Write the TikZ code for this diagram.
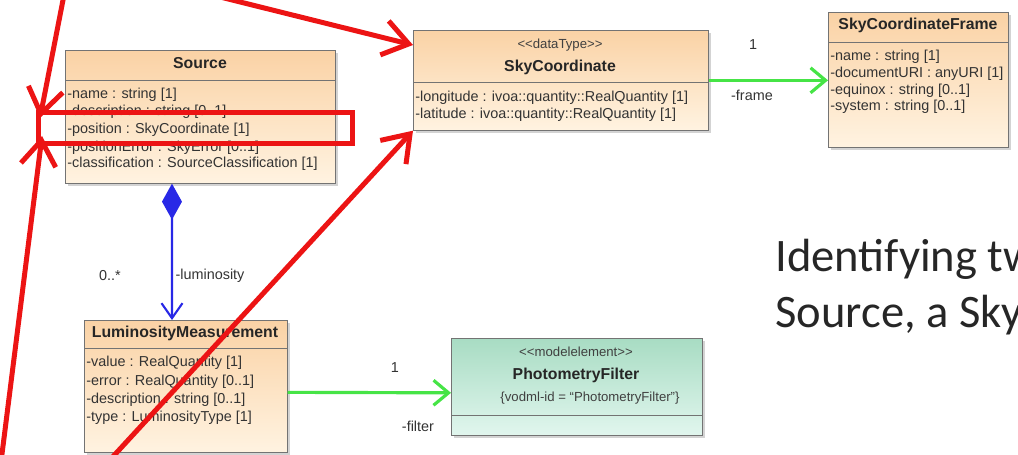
\documentclass[tikz,border=0pt]{standalone}
\usepackage{fontspec}
\setmainfont{Liberation Sans}
\newfontfamily\slidefont{Carlito}
\usetikzlibrary{arrows.meta,shadows}

\definecolor{peachdark}{RGB}{250,210,165}
\definecolor{peachlight}{RGB}{255,243,225}
\definecolor{minttop}{RGB}{168,220,195}
\definecolor{mintbot}{RGB}{225,246,238}
\definecolor{umlgreen}{RGB}{70,228,70}
\definecolor{umlblue}{RGB}{40,40,230}
\definecolor{markred}{RGB}{236,20,20}

\begin{document}
\begin{tikzpicture}[x=0.02cm, y=-0.02cm]
	\tikzstyle{class_box} = [draw=black!55, anchor=north west, inner sep=0, top color=peachdark, bottom color=peachlight, drop shadow={shadow xshift=0.05cm, shadow yshift=-0.05cm, opacity=0.35}]
	\tikzstyle{model_box} = [class_box, top color=minttop, bottom color=mintbot]
	\tikzstyle{class_sep} = [draw=black!55]
	\tikzstyle{class_title} = [inner sep=0, text=black!85, font=\bfseries\fontsize{9}{10}\selectfont]
	\tikzstyle{class_stereo} = [inner sep=0, text=black!75, font=\fontsize{7.5}{9}\selectfont]
	\tikzstyle{class_attr} = [anchor=west, inner sep=0, text=black!80, font=\fontsize{8.2}{9}\selectfont]
	\tikzstyle{conn_label} = [inner sep=0, text=black!80, font=\fontsize{8.2}{9}\selectfont]
	\tikzstyle{assoc_line} = [draw=umlgreen, line width=1.8pt, -{Straight Barb[length=0.3cm, width=0.5cm]}]
	\tikzstyle{comp_line} = [draw=umlblue, line width=1.2pt, {Diamond[length=0.72cm, width=0.4cm]}-{Straight Barb[length=0.3cm, width=0.42cm]}]
	\tikzstyle{mark_arrow} = [draw=markred, line width=0.1cm, line cap=round, line join=round, -{Straight Barb[length=0.5cm, width=0.7cm]}]
	\tikzstyle{mark_box} = [draw=markred, line width=0.1cm]

	\clip (0,0) rectangle (1018,455);

%------------------------------------------------------------
	\node[class_box, minimum width=5.4cm, minimum height=2.66cm] (src) at (65,50) {};
	\draw[class_sep] ([yshift=-0.6cm]src.north west) -- ([yshift=-0.6cm]src.north east);
	\node[class_title] (src_name) at (200,63) {Source};
	\node[class_attr] (src_a1) at (67,95) {-name : string [1]};
	\node[class_attr] (src_a2) at (67,112) {-description : string [0..1]};
	\node[class_attr] (src_a3) at (67,130) {-position : SkyCoordinate [1]};
	\node[class_attr] (src_a4) at (67,148) {-positionError : SkyError [0..1]};
	\node[class_attr] (src_a5) at (67,164) {-classification : SourceClassification [1]};

%------------------------------------------------------------
	\node[class_box, minimum width=5.9cm, minimum height=2.0cm] (sky) at (413,30) {};
	\draw[class_sep] ([yshift=-1.04cm]sky.north west) -- ([yshift=-1.04cm]sky.north east);
	\node[class_stereo] (sky_st) at (560,45) {{<}{<}dataType{>}{>}};
	\node[class_title] (sky_name) at (560,67) {SkyCoordinate};
	\node[class_attr] (sky_a1) at (415,98) {-longitude : ivoa::quantity::RealQuantity [1]};
	\node[class_attr] (sky_a2) at (415,115) {-latitude : ivoa::quantity::RealQuantity [1]};

%------------------------------------------------------------
	\node[class_box, minimum width=3.6cm, minimum height=2.7cm] (frame) at (828,12) {};
	\draw[class_sep] ([yshift=-0.6cm]frame.north west) -- ([yshift=-0.6cm]frame.north east);
	\node[class_title] (frame_name) at (918,25) {SkyCoordinateFrame};
	\node[class_attr] (frame_a1) at (830,57) {-name : string [1]};
	\node[class_attr] (frame_a2) at (830,74) {-documentURI : anyURI [1]};
	\node[class_attr] (frame_a3) at (830,91) {-equinox : string [0..1]};
	\node[class_attr] (frame_a4) at (830,107) {-system : string [0..1]};

%------------------------------------------------------------
	\node[class_box, minimum width=4.06cm, minimum height=2.64cm] (lum) at (84,320) {};
	\draw[class_sep] ([yshift=-0.56cm]lum.north west) -- ([yshift=-0.56cm]lum.north east);
	\node[class_title] (lum_name) at (185,333) {LuminosityMeasurement};
	\node[class_attr] (lum_a1) at (86,363) {-value : RealQuantity [1]};
	\node[class_attr] (lum_a2) at (86,382) {-error : RealQuantity [0..1]};
	\node[class_attr] (lum_a3) at (86,400) {-description : string [0..1]};
	\node[class_attr] (lum_a4) at (86,418) {-type : LuminosityType [1]};

%------------------------------------------------------------
	\node[model_box, minimum width=5.02cm, minimum height=1.94cm] (photo) at (451,338) {};
	\draw[class_sep] ([yshift=-1.54cm]photo.north west) -- ([yshift=-1.54cm]photo.north east);
	\node[class_stereo] (photo_st) at (576,352) {{<}{<}modelelement{>}{>}};
	\node[class_title] (photo_name) at (576,375) {PhotometryFilter};
	\node[class_stereo] (photo_tag) at (590,398) {\{vodml-id = “PhotometryFilter”\}};

%------------------------------------------------------------
	\draw[assoc_line] (sky.east) -- (sky.east -| frame.west);
	\node[conn_label] (frame_mult) at (753,45) {1};
	\node[conn_label] (frame_role) at (752,95) {-frame};

	\draw[comp_line] ([xshift=2.14cm]src.south west) -- ([xshift=1.76cm]lum.north west);
	\node[conn_label] (lum_mult) at (110,276) {0..*};
	\node[conn_label] (lum_role) at (210,276) {-luminosity};

	\draw[assoc_line] ([yshift=-0.12cm]lum.east) -- ([yshift=-0.12cm]photo.west);
	\node[conn_label] (photo_mult) at (395,368) {1};
	\node[conn_label] (photo_role) at (418,426) {-filter};

%------------------------------------------------------------
	\node[anchor=base west, inner sep=0, text=black!85, font=\slidefont\fontsize{26.5}{31}\selectfont] (intro_a) at (775,272) {Identifying tw};
	\node[anchor=base west, inner sep=0, text=black!85, font=\slidefont\fontsize{26.5}{31}\selectfont] (intro_b) at (775,328) {Source, a Sky};

%------------------------------------------------------------
	\draw[mark_box] (38,113) rectangle (352,144);

	\coordinate (ra_start) at (212,-5);
	\draw[mark_arrow] (ra_start) -- ([yshift=-0.3cm]sky.north west);
	\coordinate (rb_start) at (108,462);
	\draw[mark_arrow] (rb_start) -- (sky.south west);
	\coordinate (rc_start) at (64,-5);
	\coordinate (rc_tip) at (40,118);
	\draw[mark_arrow] (rc_start) -- (rc_tip);
	\coordinate (rd_start) at (1,462);
	\coordinate (rd_tip) at (42,136);
	\draw[mark_arrow] (rd_start) -- (rd_tip);

\end{tikzpicture}
\end{document}
